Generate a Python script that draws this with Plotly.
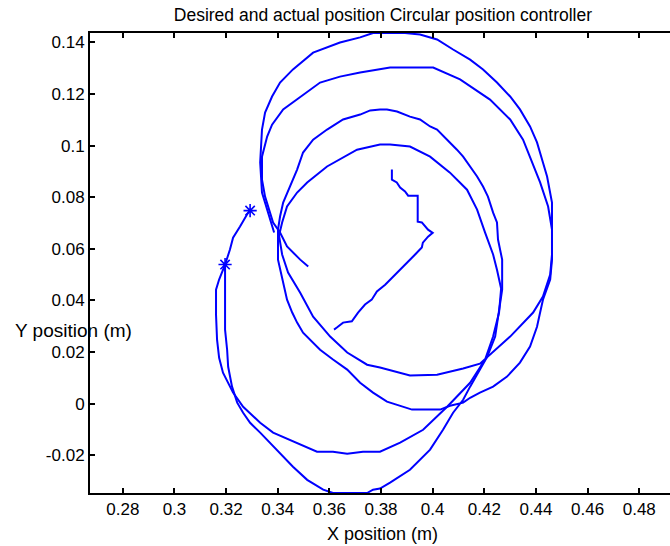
import plotly.graph_objects as go

# Desired (reference) trajectory, metres
x_desired = [0.3196, 0.3173, 0.3161, 0.3161, 0.3165, 0.3173, 0.3188, 0.3227, 0.3266, 0.3332,
             0.3382, 0.3487, 0.3552, 0.3614, 0.3669, 0.3730, 0.3796, 0.3874, 0.3963, 0.4056,
             0.4145, 0.4203, 0.4234, 0.4257, 0.4265, 0.4249, 0.4234, 0.4203, 0.4172, 0.4133,
             0.4067, 0.3990, 0.3912, 0.3835, 0.3796, 0.3707, 0.3591, 0.3514, 0.3475, 0.3436,
             0.3417, 0.3405, 0.3417, 0.3440, 0.3487, 0.3537, 0.3603, 0.3669, 0.3746, 0.3796,
             0.3912, 0.4017, 0.4118, 0.4183, 0.4234, 0.4300, 0.4389, 0.4427, 0.4455, 0.4462,
             0.4462, 0.4447, 0.4416, 0.4350, 0.4300, 0.4222, 0.4106, 0.4002, 0.3912, 0.3835,
             0.3719, 0.3641, 0.3564, 0.3475, 0.3421, 0.3378, 0.3359, 0.3339, 0.3339, 0.3351,
             0.3382, 0.3409, 0.3436, 0.3487, 0.3518]
y_desired = [0.0539, 0.0481, 0.0442, 0.0345, 0.0248, 0.0178, 0.0120, 0.0043, -0.0012, -0.0074,
             -0.0112, -0.0159, -0.0186, -0.0186, -0.0194, -0.0186, -0.0186, -0.0151, -0.0101, -0.0012,
             0.0081, 0.0171, 0.0260, 0.0353, 0.0446, 0.0519, 0.0578, 0.0663, 0.0752, 0.0829,
             0.0895, 0.0957, 0.0996, 0.1004, 0.1004, 0.0984, 0.0919, 0.0857, 0.0818, 0.0764,
             0.0702, 0.0651, 0.0578, 0.0508, 0.0430, 0.0337, 0.0260, 0.0198, 0.0151, 0.0140,
             0.0109, 0.0112, 0.0136, 0.0155, 0.0202, 0.0260, 0.0353, 0.0415, 0.0500, 0.0578,
             0.0674, 0.0764, 0.0857, 0.1023, 0.1101, 0.1178, 0.1256, 0.1302, 0.1302, 0.1302,
             0.1283, 0.1267, 0.1244, 0.1178, 0.1140, 0.1081, 0.1035, 0.0957, 0.0868, 0.0802,
             0.0702, 0.0663, 0.0609, 0.0558, 0.0531]

# Measured (actual) trajectory, metres
x_actual = [0.3293, 0.3281, 0.3254, 0.3227, 0.3215, 0.3204, 0.3196, 0.3196, 0.3196, 0.3204,
            0.3208, 0.3223, 0.3243, 0.3266, 0.3293, 0.3332, 0.3409, 0.3459, 0.3514, 0.3576,
            0.3614, 0.3661, 0.3707, 0.3746, 0.3769, 0.3796, 0.3835, 0.3912, 0.3990, 0.4040,
            0.4079, 0.4118, 0.4145, 0.4183, 0.4211, 0.4242, 0.4257, 0.4269, 0.4269, 0.4253,
            0.4249, 0.4234, 0.4214, 0.4195, 0.4172, 0.4145, 0.4118, 0.4094, 0.4056, 0.4017,
            0.3990, 0.3951, 0.3912, 0.3862, 0.3823, 0.3796, 0.3758, 0.3719, 0.3653, 0.3591,
            0.3537, 0.3498, 0.3475, 0.3448, 0.3421, 0.3409, 0.3401, 0.3401, 0.3417, 0.3436,
            0.3456, 0.3475, 0.3498, 0.3525, 0.3564, 0.3614, 0.3669, 0.3719, 0.3769, 0.3823,
            0.3885, 0.3920, 0.4029, 0.4067, 0.4118, 0.4145, 0.4183, 0.4234, 0.4288, 0.4338,
            0.4377, 0.4404, 0.4416, 0.4427, 0.4455, 0.4462, 0.4462, 0.4455, 0.4443, 0.4427,
            0.4404, 0.4377, 0.4338, 0.4300, 0.4249, 0.4195, 0.4145, 0.4079, 0.4017, 0.3951,
            0.3893, 0.3769, 0.3719, 0.3641, 0.3537, 0.3459, 0.3409, 0.3378, 0.3351, 0.3339,
            0.3332, 0.3339, 0.3359, 0.3378, 0.3386]
y_actual = [0.0748, 0.0733, 0.0686, 0.0643, 0.0597, 0.0558, 0.0539, 0.0403, 0.0287, 0.0209,
            0.0143, 0.0066, 0.0004, -0.0035, -0.0074, -0.0112, -0.0190, -0.0244, -0.0295, -0.0333,
            -0.0346, -0.0346, -0.0346, -0.0346, -0.0333, -0.0329, -0.0306, -0.0256, -0.0178, -0.0101,
            -0.0035, 0.0015, 0.0066, 0.0132, 0.0182, 0.0260, 0.0353, 0.0442, 0.0558, 0.0636,
            0.0702, 0.0740, 0.0802, 0.0841, 0.0880, 0.0919, 0.0957, 0.0984, 0.1023, 0.1062,
            0.1074, 0.1101, 0.1112, 0.1132, 0.1140, 0.1140, 0.1136, 0.1120, 0.1101, 0.1062,
            0.1023, 0.0973, 0.0907, 0.0841, 0.0779, 0.0725, 0.0674, 0.0558, 0.0481, 0.0403,
            0.0353, 0.0314, 0.0275, 0.0248, 0.0209, 0.0171, 0.0132, 0.0081, 0.0043, 0.0008,
            -0.0012, -0.0023, -0.0023, -0.0008, 0.0004, 0.0023, 0.0043, 0.0066, 0.0105, 0.0159,
            0.0221, 0.0298, 0.0353, 0.0403, 0.0481, 0.0558, 0.0779, 0.0818, 0.0880, 0.0934,
            0.1012, 0.1074, 0.1140, 0.1190, 0.1244, 0.1295, 0.1333, 0.1372, 0.1411, 0.1430,
            0.1436, 0.1436, 0.1419, 0.1399, 0.1360, 0.1295, 0.1244, 0.1190, 0.1128, 0.1062,
            0.0934, 0.0818, 0.0752, 0.0686, 0.0663]

# Approach segment in the middle of the workspace
x_approach = [0.3842, 0.3842, 0.3861, 0.3874, 0.3893, 0.3905, 0.3942, 0.3942, 0.3958, 0.3971,
              0.3982, 0.4000, 0.3982, 0.3962, 0.3958, 0.3932, 0.3905, 0.3874, 0.3847, 0.3816,
              0.3784, 0.3764, 0.3738, 0.3711, 0.3687, 0.3653, 0.3629, 0.3618]
y_approach = [0.0907, 0.0868, 0.0857, 0.0837, 0.0822, 0.0806, 0.0806, 0.0705, 0.0702, 0.0686,
              0.0674, 0.0662, 0.0647, 0.0624, 0.0605, 0.0578, 0.0550, 0.0519, 0.0492, 0.0461,
              0.0435, 0.0403, 0.0384, 0.0353, 0.0319, 0.0314, 0.0295, 0.0287]

# Start points
x_start = [0.3196, 0.3293]
y_start = [0.0539, 0.0748]

# Axis ticks
x_ticks = [0.28, 0.30, 0.32, 0.34, 0.36, 0.38, 0.40, 0.42, 0.44, 0.46, 0.48]
x_tick_text = ["0.28", "0.3", "0.32", "0.34", "0.36", "0.38", "0.4", "0.42", "0.44", "0.46", "0.48"]
y_ticks = [-0.02, 0.0, 0.02, 0.04, 0.06, 0.08, 0.10, 0.12, 0.14]
y_tick_text = ["-0.02", "0", "0.02", "0.04", "0.06", "0.08", "0.1", "0.12", "0.14"]

BLUE = "#0000ff"
FONT = "Liberation Sans, Arial, Helvetica, sans-serif"

fig = go.Figure()
line_style = dict(color=BLUE, width=2)
fig.add_trace(go.Scatter(x=x_desired, y=y_desired, mode="lines", line=line_style, hoverinfo="skip"))
fig.add_trace(go.Scatter(x=x_actual, y=y_actual, mode="lines", line=line_style, hoverinfo="skip"))
fig.add_trace(go.Scatter(x=x_approach, y=y_approach, mode="lines", line=line_style, hoverinfo="skip"))
fig.add_trace(go.Scatter(x=x_start, y=y_start, mode="markers",
                         marker=dict(symbol="asterisk-open", size=11, color=BLUE,
                                     line=dict(color=BLUE, width=1.6)),
                         hoverinfo="skip"))

axis_common = dict(
    showgrid=False, zeroline=False,
    showline=True, linecolor="black", linewidth=2,
    ticks="inside", ticklen=5, tickwidth=1.5, tickcolor="black",
    tickfont=dict(family=FONT, size=17, color="black"),
)

fig.update_layout(
    width=670, height=546,
    margin=dict(l=90, r=0, t=33, b=53),
    paper_bgcolor="white", plot_bgcolor="white",
    showlegend=False,
    title=dict(text="Desired and actual position Circular position controller",
               font=dict(family=FONT, size=17.5, color="black"),
               x=0.505, xref="paper", xanchor="center",
               y=1 - 15 / 546, yref="container", yanchor="middle"),
    xaxis=dict(range=[0.2673, 0.4919], tickvals=x_ticks, ticktext=x_tick_text,
               mirror="ticks", **axis_common),
    yaxis=dict(range=[-0.0346, 0.1436], tickvals=y_ticks, ticktext=y_tick_text,
               mirror=False, **axis_common),
    yaxis2=dict(overlaying="y", side="right", matches="y", showline=False,
                showgrid=False, zeroline=False, showticklabels=False,
                ticks="inside", ticklen=5, tickwidth=1.5, tickcolor="black",
                tickvals=y_ticks, range=[-0.0346, 0.1436]),
    annotations=[
        dict(text="X position (m)", xref="paper", yref="paper", x=0.505, y=-0.0885,
             xanchor="center", yanchor="middle", showarrow=False,
             font=dict(family=FONT, size=18, color="black")),
        dict(text="Y position (m)", xref="paper", yref="paper", x=-0.1333, y=0.3535,
             xanchor="left", yanchor="middle", showarrow=False,
             font=dict(family=FONT, size=19, color="black")),
    ],
)

fig.write_html("out.html")
